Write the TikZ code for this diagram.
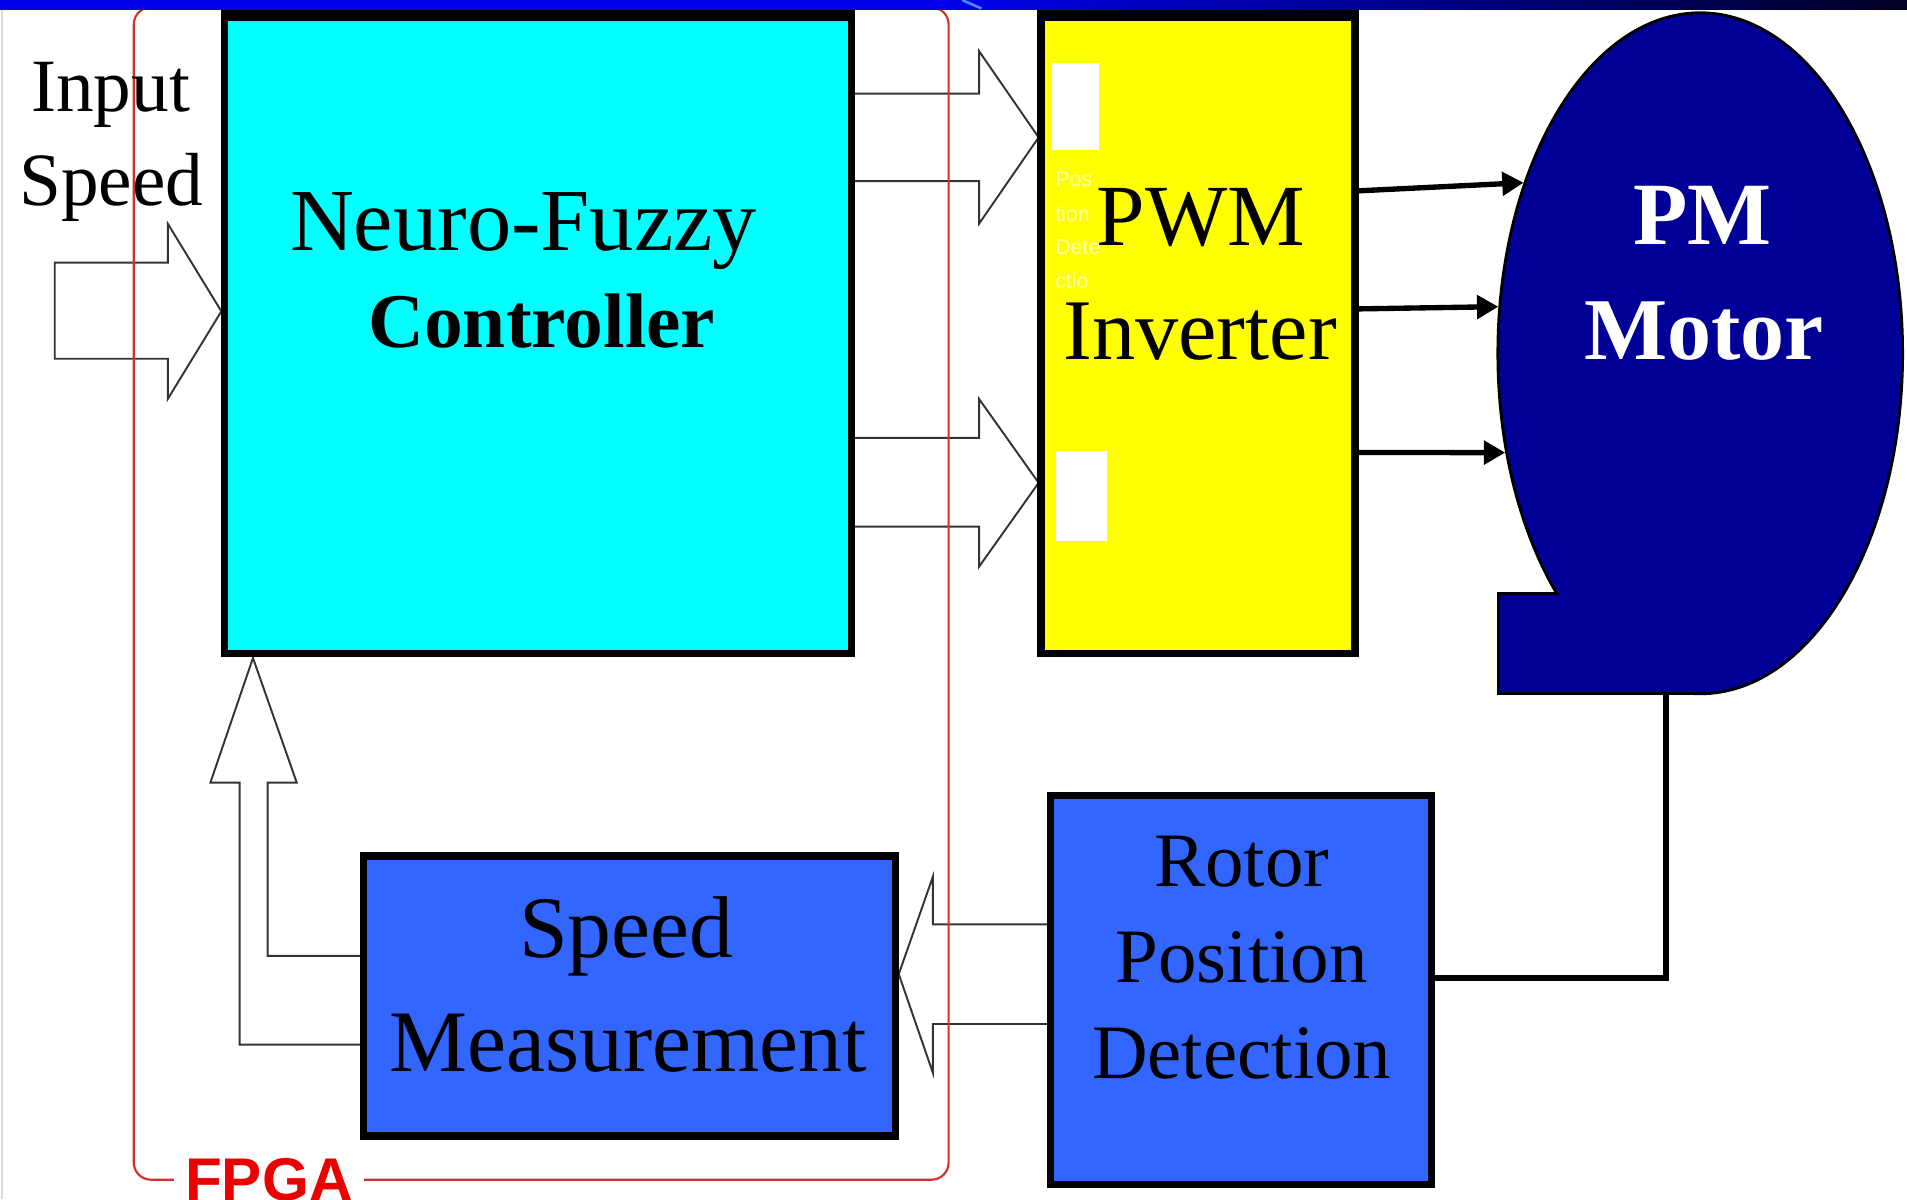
\documentclass[tikz,border=0pt]{standalone}
\usepackage{fontspec}
\setmainfont{Liberation Serif}
\newfontfamily\sansfam{Liberation Sans}
\usetikzlibrary{arrows.meta,shapes.geometric}
\definecolor{nfcyan}{RGB}{0,255,255}
\definecolor{pwmyellow}{RGB}{255,255,0}
\definecolor{boxblue}{RGB}{51,102,255}
\definecolor{motornavy}{RGB}{0,0,150}
\definecolor{fpgaline}{RGB}{215,45,45}
\definecolor{fpgatext}{RGB}{235,0,0}
\definecolor{bandblue}{RGB}{0,0,235}
\definecolor{banddark}{RGB}{0,0,35}
\definecolor{bandstreak}{RGB}{70,140,255}
\definecolor{ghost}{RGB}{255,255,170}
\begin{document}
\begin{tikzpicture}[x=0.01cm,y=-0.01cm,
  blockbox/.style={draw=black,line width=1.7pt,inner sep=0pt},
  hollow/.style={draw=black!80,line width=0.45pt,fill=white,line join=miter},
  link/.style={draw=black,line width=1.5pt},
  motorarrow/.style={draw=black,line width=1.25pt,-{Triangle[length=5pt,width=5.4pt]}},
  txt/.style={anchor=base,inner sep=0pt},
  ghosttxt/.style={anchor=base west,inner sep=0pt,text=ghost,font=\sansfam\fontsize{5pt}{8pt}\selectfont}
]
\useasboundingbox (0,0) rectangle (1568,986);
\fill[white] (0,0) rectangle (1568,986);
\draw[black!15,line width=0.4pt] (1.5,8) -- (1.5,986);

% hollow block arrows
\draw[hollow] (45,216) -- (138,216) -- (138,184) -- (182,256) -- (138,328) -- (138,295) -- (45,295) -- cycle;
\draw[hollow] (703,77) -- (805,77) -- (805,42) -- (854,113) -- (805,184) -- (805,149) -- (703,149);
\draw[hollow] (703,360) -- (805,360) -- (805,328) -- (854,397) -- (805,466) -- (805,433) -- (703,433);
\draw[hollow] (861,760) -- (767,760) -- (767,721) -- (739,801) -- (767,882) -- (767,842) -- (861,842);
\draw[hollow] (296,786) -- (220,786) -- (220,643.5) -- (244,643.5) -- (208,541) -- (173,643.5) -- (197,643.5) -- (197,859) -- (296,859);

% blocks
\node[blockbox,fill=nfcyan,minimum width=5.15cm,minimum height=5.26cm] (nf) at (442.5,274) {};
\node[blockbox,fill=pwmyellow,minimum width=2.58cm,minimum height=5.26cm] (pwm) at (985,274) {};
\node[blockbox,fill=boxblue,minimum width=4.37cm,minimum height=2.30cm] (spd) at (517.5,819) {};
\node[blockbox,fill=boxblue,minimum width=3.13cm,minimum height=3.20cm] (rot) at (1020.5,814) {};
\fill[black] (182,8) rectangle (703,17);
\fill[black] (853,8) rectangle (1117,17);

% white patches and faint text in the inverter
\fill[white] (865,52) rectangle (904,123);
\fill[white] (868,371) rectangle (910,445);
\node[ghosttxt] (g1) at (867,153) {Pos};
\node[ghosttxt] (g2) at (867,182) {tion};
\node[ghosttxt] (g3) at (867,209) {Dete};
\node[ghosttxt] (g4) at (867,237) {ctio};

% FPGA boundary
\draw[fpgaline,line width=0.5pt,rounded corners=4pt] (110,6) rectangle (780,970);
\node[anchor=base,fill=white,inner xsep=2.6pt,inner ysep=1pt,text=fpgatext,font=\sansfam\bfseries\fontsize{14.1pt}{16pt}\selectfont] (fpga) at (221,987) {FPGA};

% motor
\node[ellipse,draw=black,line width=1.4pt,fill=motornavy,minimum width=3.3cm,minimum height=5.57cm,inner sep=0pt] (motor) at (1398,290.5) {};
\draw[black,line width=1.4pt,fill=motornavy] (1233,489) rectangle (1398,569);
\fill[motornavy] (motor.center) ellipse [x radius=1.65cm,y radius=2.785cm];
\fill[motornavy] (1233,489) rectangle (1398,569);

% connectors
\draw[motorarrow] ([yshift=1.17cm]pwm.east) -- (motor.136);
\draw[motorarrow] ([yshift=0.2cm]pwm.east) -- (motor.167.5);
\draw[motorarrow] ([yshift=-0.98cm]pwm.east) -- (motor.207.1);
\draw[link] ([xshift=-0.28cm]motor.south) |- ([yshift=0.1cm]rot.east);

% texts
\node[txt,font=\fontsize{17.6pt}{21pt}\selectfont] (in1) at (91,92) {Input};
\node[txt,font=\fontsize{17.6pt}{21pt}\selectfont] (in2) at (91.5,169) {Speed};
\node[txt,font=\fontsize{20.7pt}{24pt}\selectfont] (nf1) at (430.5,206) {Neuro-Fuzzy};
\node[txt,font=\bfseries\fontsize{18.1pt}{22pt}\selectfont] (nf2) at (445.5,286) {Controller};
\node[txt,font=\fontsize{20.4pt}{24pt}\selectfont] (pw1) at (987.5,202) {PWM};
\node[txt,font=\fontsize{20.2pt}{24pt}\selectfont] (pw2) at (986.8,295.5) {Inverter};
\node[txt,text=white,font=\bfseries\fontsize{20.8pt}{24pt}\selectfont] (pm1) at (1400,201) {PM};
\node[txt,text=white,font=\bfseries\fontsize{20.6pt}{24pt}\selectfont] (pm2) at (1401,295.5) {Motor};
\node[txt,font=\fontsize{20.5pt}{24pt}\selectfont] (sp1) at (515,787) {Speed};
\node[txt,font=\fontsize{20.5pt}{24pt}\selectfont] (sp2) at (516.6,881) {Measurement};
\node[txt,font=\fontsize{18pt}{22pt}\selectfont] (rp1) at (1021,729) {Rotor};
\node[txt,font=\fontsize{18pt}{22pt}\selectfont] (rp2) at (1021,808) {Position};
\node[txt,font=\fontsize{18pt}{22pt}\selectfont] (rp3) at (1021,887) {Detection};

% top band
\fill[bandblue] (0,0) rectangle (781,8);
\shade[left color=bandblue,right color=banddark] (780,0) rectangle (1568,8);
\draw[bandstreak,line width=0.6pt] (791,0) -- (807,7);
\end{tikzpicture}
\end{document}
